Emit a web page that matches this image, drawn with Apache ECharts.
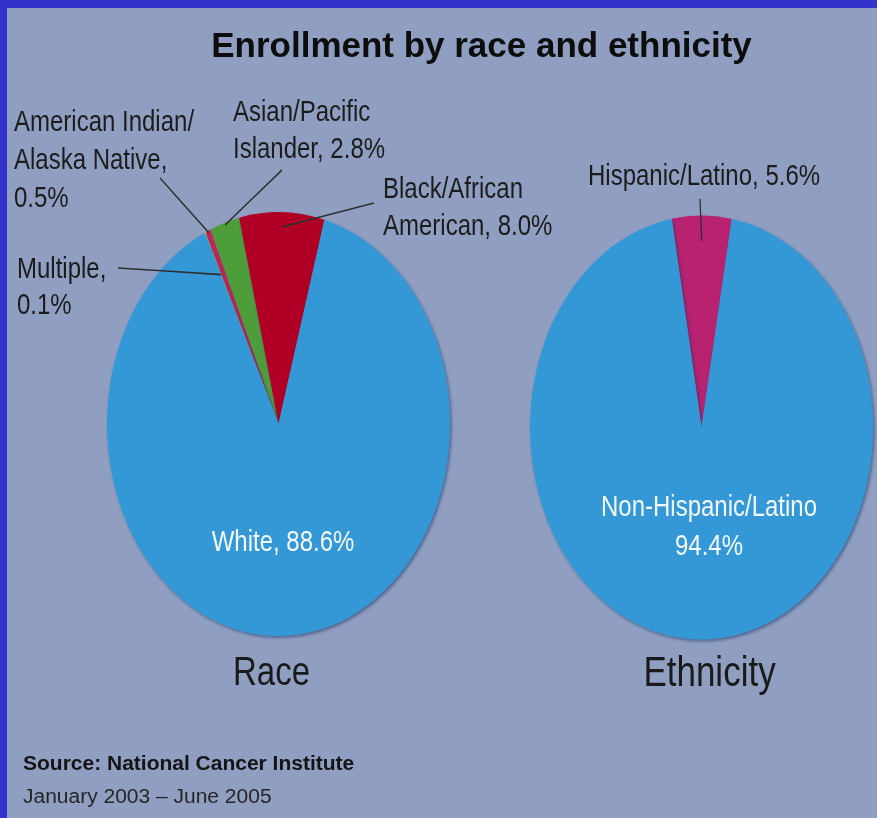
<!DOCTYPE html>
<html><head><meta charset="utf-8">
<script src="https://cdn.jsdelivr.net/npm/echarts@6/dist/echarts.min.js"></script>
<style>
html,body{margin:0;padding:0;background:#3333cc;overflow:hidden;}
#wrap{position:relative;width:877px;height:818px;background:#3333cc;}
#panel{position:absolute;left:7px;top:8px;width:870px;height:810px;background:#909fc1;}
#chart{position:absolute;left:0;top:0;width:877px;height:662px;transform:scaleY(1.2356);transform-origin:0 0;}
</style></head>
<body><div id="wrap"><div id="panel"></div><div id="chart"></div></div>
<script>
// ---- data ----
const raceCategories = ['Multiple', 'American Indian/Alaska Native', 'Asian/Pacific Islander', 'Black/African American', 'White'];
const raceValues = [0.1, 0.5, 2.8, 8.0, 88.6];
const raceLabelText = ['Multiple,\n{v}%', 'American Indian/\nAlaska Native,\n{v}%', 'Asian/Pacific\nIslander, {v}%', 'Black/African\nAmerican, {v}%', 'White, {v}%'];
const ethnicityCategories = ['Hispanic/Latino', 'Non-Hispanic/Latino'];
const ethnicityValues = [5.6, 94.4];
const ethnicityLabelText = ['Hispanic/Latino, {v}%', 'Non-Hispanic/Latino\n{v}%'];
const titleText = 'Enrollment by race and ethnicity';
const pieTitles = ['Race', 'Ethnicity'];
const sourceText = 'Source: National Cancer Institute';
const dateText = 'January 2003 \u2013 June 2005';

// ---- style / layout ----
const S = 818 / 662; // vertical stretch of the original picture
const FONT = '"Liberation Sans", Arial, Helvetica, sans-serif';
const raceColors = ['#e8d22c', '#c8285a', '#4d9e3b', '#b00026', '#3498d6'];
const ethnicityColors = ['#b82470', '#3498d6'];
const raceCenter = [278.5, 424 / S];
const ethnicityCenter = [701.5, 427.5 / S];
// label position (first line centre), line height, alignment, leader-line anchor at the label side,
// and how far into the slice the leader line reaches (fraction of radius)
const raceLabelPos = [
  {x: 17, y: 268 / S, lh: 29, align: 'left', anchor: [118, 268 / S], reach: 0.78},
  {x: 14, y: 121 / S, lh: 31, align: 'left', anchor: [160, 178 / S], reach: 0.99},
  {x: 233, y: 111 / S, lh: 30, align: 'left', anchor: [282, 170 / S], reach: 0.99},
  {x: 383, y: 188 / S, lh: 30, align: 'left', anchor: [374, 203 / S], reach: 0.93},
  {x: 283, y: 541 / S, lh: 30, align: 'center', inside: true}
];
const ethnicityLabelPos = [
  {x: 588, y: 175 / S, lh: 30, align: 'left', anchor: [700, 199 / S], reach: 0.88},
  {x: 709, y: 506 / S, lh: 31.5, align: 'center', inside: true}
];

function buildData(cats, vals, colors, texts, pos, overlay) {
  return cats.map((c, i) => ({
    name: c,
    value: vals[i],
    itemStyle: {color: overlay ? 'rgba(0,0,0,0)' : colors[i]},
    label: overlay ? {
      show: true,
      formatter: texts[i].replace('{v}', vals[i].toFixed(1)),
      color: pos[i].inside ? '#f2f8fc' : '#1c1c1c',
      lineHeight: pos[i].lh,
      align: pos[i].align
    } : {show: false},
    labelLine: {show: overlay && !pos[i].inside}
  }));
}

function layoutFor(pos, center) {
  return function (params) {
    const p = pos[params.dataIndex];
    const out = {x: p.x, y: p.y - p.lh / 2, align: p.align, verticalAlign: 'top'};
    if (!p.inside && params.labelLinePoints && params.labelLinePoints[0]) {
      const edge = params.labelLinePoints[0];
      const end = [center[0] + (edge[0] - center[0]) * p.reach, center[1] + (edge[1] - center[1]) * p.reach];
      const a = p.anchor;
      out.labelLinePoints = [end, [(end[0] + a[0]) / 2, (end[1] + a[1]) / 2], a];
    }
    return out;
  };
}

function pieSeries(name, center, startAngle, cats, vals, colors, texts, pos, overlay) {
  const s = {
    type: 'pie',
    name: name,
    z: overlay ? 5 : 2,
    radius: 171.5,
    center: center,
    startAngle: startAngle,
    avoidLabelOverlap: false,
    clockwise: true,
    animation: false,
    silent: true,
    itemStyle: overlay ? {borderWidth: 0} :
      {borderWidth: 0, shadowColor: 'rgba(15,50,100,0.55)', shadowBlur: 3, shadowOffsetX: 1.5, shadowOffsetY: 1.5},
    label: {show: overlay, fontFamily: FONT, fontSize: 24, color: '#1c1c1c'},
    labelLine: {show: overlay, length: 8, length2: 8, smooth: false,
      maxSurfaceAngle: 180, minTurnAngle: 0, lineStyle: {color: '#2e2e2e', width: 1.3}},
    emphasis: {disabled: true},
    data: buildData(cats, vals, colors, texts, pos, overlay)
  };
  if (overlay) s.labelLayout = layoutFor(pos, center);
  return s;
}

const chart = echarts.init(document.getElementById('chart'), null, {renderer: 'svg'});
chart.setOption({
  backgroundColor: 'transparent',
  animation: false,
  title: [
    {text: pieTitles[0], left: 271.5, top: 671 / S, padding: 0, textAlign: 'center', textVerticalAlign: 'middle',
     textStyle: {fontFamily: FONT, fontSize: 33, fontWeight: 'normal', color: '#1a1a1a'}},
    {text: pieTitles[1], left: 709.5, top: 671 / S, padding: 0, textAlign: 'center', textVerticalAlign: 'middle',
     textStyle: {fontFamily: FONT, fontSize: 35, fontWeight: 'normal', color: '#1a1a1a'}}
  ],
  graphic: [
    {type: 'text', x: 481.5, y: 44.5 / S, scaleY: 1 / S,
     style: {text: titleText, fontFamily: FONT, fontSize: 35, fontWeight: 'bold', fill: '#0d0d0d',
             align: 'center', verticalAlign: 'middle', textAlign: 'center', textVerticalAlign: 'middle'}},
    {type: 'text', x: 23, y: 762.5 / S, scaleY: 1 / S,
     style: {text: sourceText, fontFamily: FONT, fontSize: 21, fontWeight: 'bold', fill: '#141414',
             align: 'left', verticalAlign: 'middle', textAlign: 'left', textVerticalAlign: 'middle'}},
    {type: 'text', x: 23, y: 796 / S, scaleY: 1 / S,
     style: {text: dateText, fontFamily: FONT, fontSize: 21, fontWeight: 'normal', fill: '#262626',
             align: 'left', verticalAlign: 'middle', textAlign: 'left', textVerticalAlign: 'middle'}}
  ],
  series: [
    pieSeries('Race', raceCenter, 115.5, raceCategories, raceValues, raceColors, raceLabelText, raceLabelPos, false),
    pieSeries('Ethnicity', ethnicityCenter, 100, ethnicityCategories, ethnicityValues, ethnicityColors, ethnicityLabelText, ethnicityLabelPos, false),
    pieSeries('Race labels', raceCenter, 115.5, raceCategories, raceValues, raceColors, raceLabelText, raceLabelPos, true),
    pieSeries('Ethnicity labels', ethnicityCenter, 100, ethnicityCategories, ethnicityValues, ethnicityColors, ethnicityLabelText, ethnicityLabelPos, true)
  ]
});
</script>
</body></html>
